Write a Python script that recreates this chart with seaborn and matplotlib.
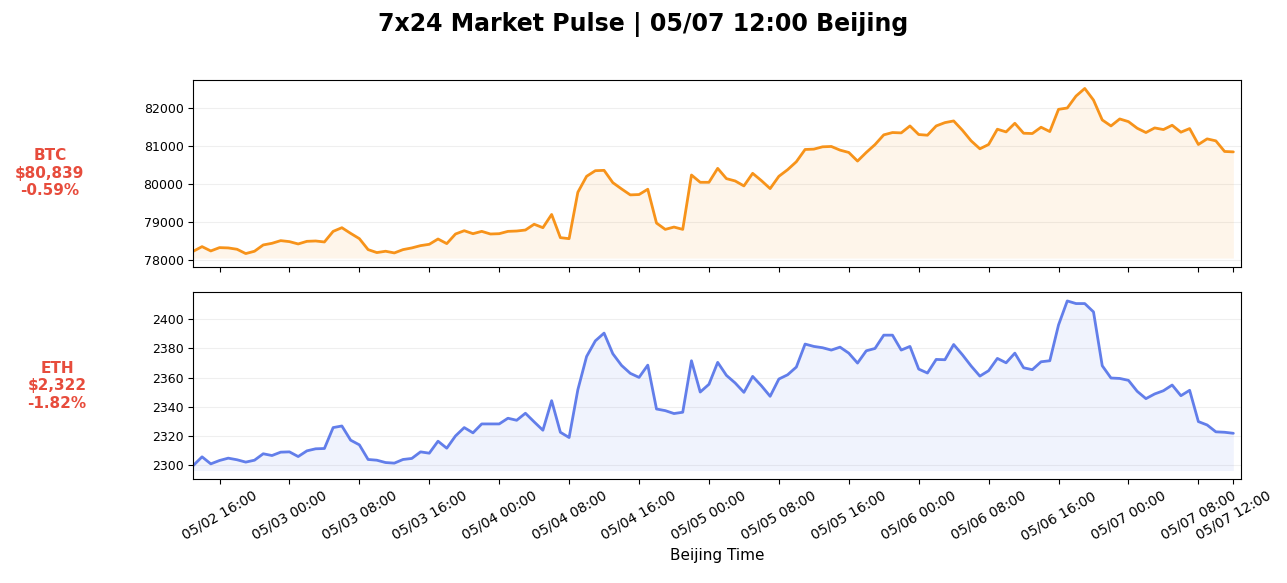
import pandas as pd
import numpy as np
import matplotlib
matplotlib.use('Agg')
import matplotlib.pyplot as plt
import seaborn as sns

sns.set_style('ticks')
plt.rcParams.update({'text.color': 'black', 'axes.labelcolor': 'black',
                     'xtick.color': 'black', 'ytick.color': 'black'})

# hourly closes, 05/02 13:00 -> 05/07 12:00 (Beijing)
times = pd.date_range('2025-05-02 13:00', '2025-05-07 12:00', freq='h')

btc = [78235, 78356, 78243, 78330, 78322, 78287, 78174, 78235, 78400, 78443,
       78513, 78487, 78426, 78495, 78504, 78478, 78756, 78852, 78704, 78565,
       78278, 78200, 78235, 78191, 78278, 78322, 78382, 78417, 78556, 78435,
       78687, 78773, 78695, 78756, 78687, 78695, 78756, 78765, 78791, 78943,
       78852, 79199, 78591, 78565, 79781, 80199, 80346, 80355, 80033, 79868,
       79712, 79721, 79860, 78973, 78808, 78869, 78808, 80233, 80042, 80042,
       80407, 80138, 80077, 79947, 80277, 80086, 79877, 80199, 80372, 80581,
       80902, 80911, 80972, 80981, 80885, 80824, 80598, 80824, 81030, 81285,
       81346, 81337, 81519, 81294, 81276, 81519, 81606, 81650, 81406, 81128,
       80920, 81033, 81433, 81363, 81589, 81328, 81320, 81485, 81372, 81954,
       81989, 82302, 82501, 82197, 81676, 81519, 81702, 81632, 81459, 81346,
       81467, 81424, 81537, 81355, 81450, 81033, 81180, 81128, 80850, 80839]

eth = [2300.0, 2305.9, 2301.1, 2303.4, 2305.0, 2303.9, 2302.3, 2303.6, 2308.0, 2306.8,
       2309.1, 2309.3, 2306.1, 2310.0, 2311.4, 2311.6, 2325.9, 2327.0, 2317.3, 2314.1,
       2304.1, 2303.6, 2302.0, 2301.6, 2304.1, 2304.8, 2309.3, 2308.4, 2316.6, 2311.8,
       2320.2, 2325.9, 2322.3, 2328.4, 2328.4, 2328.4, 2332.3, 2330.9, 2335.7, 2329.8,
       2324.1, 2344.3, 2322.7, 2319.1, 2351.8, 2374.5, 2385.2, 2390.5, 2376.4, 2368.4,
       2363.0, 2360.2, 2368.6, 2338.6, 2337.5, 2335.5, 2336.4, 2371.6, 2350.2, 2355.5,
       2370.5, 2361.6, 2356.4, 2350.0, 2360.9, 2354.5, 2347.3, 2359.1, 2362.0, 2367.3,
       2383.0, 2381.4, 2380.5, 2378.9, 2380.9, 2376.8, 2370.0, 2378.4, 2380.0, 2389.1,
       2389.1, 2378.9, 2381.4, 2365.9, 2363.2, 2372.5, 2372.3, 2382.7, 2375.7, 2368.0,
       2361.1, 2364.8, 2373.2, 2370.2, 2376.8, 2366.8, 2365.5, 2370.9, 2371.6, 2396.1,
       2412.5, 2410.7, 2410.7, 2405.0, 2368.2, 2359.8, 2359.5, 2358.2, 2350.7, 2345.7,
       2348.9, 2351.1, 2355.0, 2347.7, 2351.4, 2330.0, 2327.7, 2323.0, 2322.7, 2322.0]

coins = ['BTC', 'ETH']
prices = ['$80,839', '$2,322']
changes = ['-0.59%', '-1.82%']
colors = ['#f7931a', '#627eea']
label_x = [-0.137, -0.130]

fig, axes = plt.subplots(2, 1, figsize=(12.87, 5.83), dpi=100, sharex=True)
fig.subplots_adjust(left=0.1502, right=0.9643, top=0.8628, bottom=0.1784, hspace=0.139)

for ax, series, coin, price, chg, col, lx in zip(axes, [btc, eth], coins, prices,
                                                  changes, colors, label_x):
    vals = np.array(series, dtype=float)
    sns.lineplot(x=times, y=vals, ax=ax, color=col, linewidth=2)
    ax.fill_between(times, vals, vals.min() * 0.9985, color=col, alpha=0.09, linewidth=0)
    ax.grid(axis='y', alpha=0.3)
    ax.tick_params(axis='y', labelsize=9)
    ax.set_ylabel('')
    for s in ax.spines.values():
        s.set_color('black')
    ax.text(lx, 0.5, f'{coin}\n{price}\n{chg}', transform=ax.transAxes,
            ha='center', va='center', color='#e74c3c', fontsize=11, fontweight='bold')

ticks = list(pd.date_range('2025-05-02 16:00', '2025-05-07 08:00', freq='8h')) + [times[-1]]
axes[1].set_xticks(ticks)
axes[1].set_xticklabels([t.strftime('%m/%d %H:%M') for t in ticks], rotation=30, fontsize=10)
axes[1].set_xlim(times[0], times[-1] + pd.Timedelta(minutes=53))
axes[1].set_xlabel('Beijing Time', fontsize=11)

fig.suptitle('7x24 Market Pulse | 05/07 12:00 Beijing', fontsize=17, fontweight='bold')

plt.savefig('out.png', dpi=100)
